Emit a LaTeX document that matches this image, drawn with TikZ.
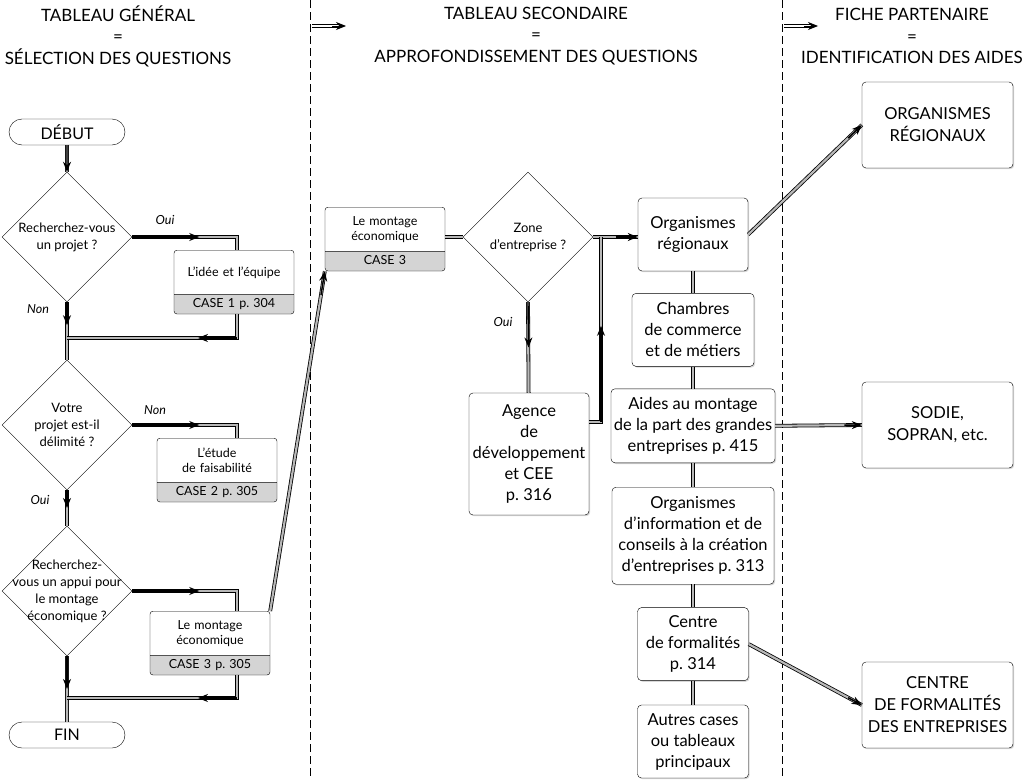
\documentclass[tikz,border=0pt]{standalone}
\usepackage{fontspec}
\setmainfont{Lato}
\frenchspacing
\usetikzlibrary{arrows.meta, positioning, shapes.geometric, shapes.misc, shapes.multipart, calc, shadows}
\newcommand{\casetop}[1]{\parbox[c][40pt][c]{\linewidth}{\centering #1}}
\tikzset{box/.style={rectangle,draw,rounded corners=4pt,align=center,fill=white,inner sep=2pt,font=\fontsize{16.5}{21}\selectfont,drop shadow={shadow xshift=1.2pt,shadow yshift=-1.2pt,opacity=.3}},
  bigbox/.style={box,minimum width=151pt,minimum height=86pt,font=\fontsize{16.5}{22}\selectfont},
  casebox/.style={rectangle split,rectangle split parts=2,draw,rounded corners=3pt,rectangle split part fill={white,black!17},text width=114pt,align=center,inner xsep=3pt,inner ysep=2pt,font=\fontsize{12.5}{15}\selectfont},
  diam/.style={diamond,draw,fill=white,minimum width=130pt,minimum height=130pt,inner sep=0pt},
  dlab/.style={align=center,font=\fontsize{13}{17}\selectfont},
  term/.style={rounded rectangle,draw,fill=white,minimum width=116pt,minimum height=26pt,inner sep=0pt,font=\fontsize{16}{18}\selectfont},
  lab/.style={font=\itshape\fontsize{12.5}{14}\selectfont},
  header/.style={align=center,font=\fontsize{17}{21.5}\selectfont},
  pipe/.style={draw=black,line width=.8pt,double=black!28,double distance=2.2pt},
  hdr/.style={draw=black,line width=1pt,double=white,double distance=2.4pt},
  arr/.style={-{Stealth[length=10pt,width=8pt]},line width=1.4pt},
  divider/.style={dash pattern=on 8pt off 4pt,line width=.8pt}}

\begin{document}
\begin{tikzpicture}[x=1pt,y=-1pt]
\path[use as bounding box,fill=white] (0,0) rectangle (1025,779);

% headers and column separators
\node[header] (h1) at (118,36) {TABLEAU GÉNÉRAL\\=\\SÉLECTION DES QUESTIONS};
\node[header] (h2) at (536,36) {TABLEAU SECONDAIRE\\=\\APPROFONDISSEMENT DES QUESTIONS};
\node[header] (h3) at (912,36) {FICHE PARTENAIRE\\=\\IDENTIFICATION DES AIDES};
\coordinate (s1) at (310,0);
\coordinate (s2) at (782,0);
\coordinate (k1) at (312,26);
\coordinate (k2) at (784,26);
\draw[divider] (s1) -- ++(0,779);
\draw[divider] (s2) -- ++(0,779);
\draw[hdr] (k1) -- ++(26,0);
\draw[arr,line width=1pt] ($(k1)+(20,0)$) -- ++(14,0);
\draw[hdr] (k2) -- ++(26,0);
\draw[arr,line width=1pt] ($(k2)+(20,0)$) -- ++(14,0);

% general table
\node[term] (deb) at (67,132) {DÉBUT};
\node[diam,label={[dlab]center:Recherchez-vous\\un projet ?}] (d1) at (67,237) {};
\node[diam,label={[dlab]center:Votre\\projet est-il\\délimité ?}] (d2) at (67,425) {};
\node[diam,label={[dlab]center:Recherchez-\\vous un appui pour\\le montage\\économique ?}] (d3) at (67,591) {};
\node[term] (fin) at (67,735) {FIN};
\node[casebox,anchor=north] (b1) at (234,250) {\casetop{L’idée et l’équipe}\nodepart{two}CASE 1 p. 304\strut};
\node[casebox,anchor=north] (b2) at (217,438) {\casetop{L’étude\\de faisabilité}\nodepart{two}CASE 2 p. 305\strut};
\node[casebox,anchor=north] (b3) at (210,611) {\casetop{Le montage\\économique}\nodepart{two}CASE 3 p. 305\strut};
\node[lab] (oui1) at (165,220) {Oui};
\node[lab] (non1) at (38,309) {Non};
\node[lab] (non2) at (155,410) {Non};
\node[lab] (oui2) at (40,500) {Oui};
\coordinate (colx) at (237,0);
\coordinate (j1) at (67,338);
\coordinate (j3) at (67,698);

% secondary table
\node[casebox,anchor=north] (m) at (385,207) {\casetop{Le montage\\économique}\nodepart{two}CASE 3\strut};
\node[diam,label={[dlab]center:Zone\\d’entreprise ?}] (z) at (528,237) {};
\node[box,minimum width=120pt,minimum height=122pt] (ag) at (529,454) {Agence\\de\\développement\\et CEE\\p. 316};
\node[lab] (oui3) at (503,322) {Oui};
\coordinate (zx) at (601,237);
\coordinate (ax) at (601,422);
\node[box,minimum width=110pt,minimum height=73pt] (or) at (693,234.5) {Organismes\\régionaux};
\node[box,minimum width=122pt,minimum height=73pt,below=22pt of or] (ch) {Chambres\\de commerce\\et de métiers};
\node[box,minimum width=164pt,minimum height=74pt,below=22pt of ch] (ai) {Aides au montage\\de la part des grandes\\entreprises p. 415};
\node[box,minimum width=162pt,minimum height=97pt,below=24pt of ai] (oi) {Organismes\\d’information et de\\conseils à la création\\d’entreprises p. 313};
\node[box,minimum width=111pt,minimum height=73pt,below=23pt of oi] (ce) {Centre\\de formalités\\p. 314};
\node[box,minimum width=111pt,minimum height=73pt,below=24pt of ce] (au) {Autres cases\\ou tableaux\\principaux};

% partner sheet
\node[bigbox] (orb) at (937.5,125) {ORGANISMES\\RÉGIONAUX};
\node[bigbox] (sod) at (937.5,425) {SODIE,\\SOPRAN, etc.};
\node[bigbox] (cfe) at (937.5,705) {CENTRE\\DE FORMALITÉS\\DES ENTREPRISES};

% connectors, left
\draw[pipe] (deb) -- (d1);
\draw[arr] (deb) -- (d1.north);
\draw[pipe] (d1.south) -- (d2.north);
\draw[arr] (d1.south) -- ($(d1.south)!.4!(d2.north)$);
\draw[pipe] (d2.south) -- (d3.north);
\draw[arr] (d2.south) -- ($(d2.south)!.5!(d3.north)$);
\draw[pipe] (d3.south) -- (fin);
\draw[arr] (d3.south) -- ($(d3.south)!.5!(fin.north)$);
\draw[pipe] (d1.east) -| (b1.north -| colx);
\draw[arr] (d1.east) -- ($(d1.east)!.64!(d1.east -| colx)$);
\draw[pipe] (b1.south -| colx) |- (j1);
\draw[arr] (j1 -| colx) -- ($(j1 -| colx)!.23!(j1)$);
\draw[pipe] (d2.east) -| (b2.north -| colx);
\draw[arr] (d2.east) -- ($(d2.east)!.64!(d2.east -| colx)$);
\draw[pipe] (d3.east) -| (b3.north -| colx);
\draw[arr] (d3.east) -- ($(d3.east)!.64!(d3.east -| colx)$);
\draw[pipe] (b3.south -| colx) |- (j3);
\draw[arr] (j3 -| colx) -- ($(j3 -| colx)!.23!(j3)$);

% connectors, middle
\draw[pipe] (b3.north east) -- (m.south west);
\draw[arr] ($(b3.north east)!.93!(m.south west)$) -- (m.south west);
\draw[pipe] (z.west -| m.east) -- (z.west);
\draw[pipe] (z.east) -- (z.east -| or.west);
\draw[arr] ($(z.east)!.5!(z.east -| or.west)$) -- (z.east -| or.west);
\draw[pipe] (z.south) -- (ag);
\draw[arr] (z.south) -- ($(z.south)!.5!(ag.north)$);
\draw[pipe] (ax -| ag.east) -- (ax) -- (zx);
\draw[arr] (ax) -- ($(ax)!.52!(zx)$);
\draw[pipe] (or) -- (ch) -- (ai) -- (oi) -- (ce) -- (au);

% connectors, right
\draw[pipe] (or.east) -- (orb.west);
\draw[arr] ($(or.east)!.88!(orb.west)$) -- (orb.west);
\draw[pipe] (ai.east) -- (sod.west);
\draw[arr] ($(ai.east)!.8!(sod.west)$) -- (sod.west);
\draw[pipe] (ce.east) -- (cfe.west);
\draw[arr] ($(ce.east)!.88!(cfe.west)$) -- (cfe.west);
\end{tikzpicture}
\end{document}
